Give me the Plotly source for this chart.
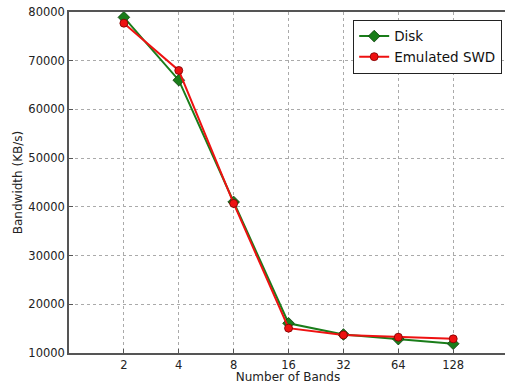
import math
import plotly.graph_objects as go

bands = [2, 4, 8, 16, 32, 64, 128]
band_labels = ["2", "4", "8", "16", "32", "64", "128"]
disk = [78900, 66000, 41000, 16100, 13800, 12850, 11900]
swd = [77700, 68000, 40700, 15100, 13700, 13250, 12900]
y_ticks = [10000, 20000, 30000, 40000, 50000, 60000, 70000, 80000]

font = "DejaVu Sans"
fig = go.Figure()
fig.add_trace(go.Scatter(
    x=bands, y=disk, name="Disk", mode="lines+markers",
    line=dict(color="#1a7d1a", width=2),
    marker=dict(symbol="diamond", size=9, color="#1a7d1a",
                line=dict(color="#0d3d0d", width=0.8)),
))
fig.add_trace(go.Scatter(
    x=bands, y=swd, name="Emulated SWD", mode="lines+markers",
    line=dict(color="#ee1111", width=2),
    marker=dict(symbol="circle", size=8, color="#ee1111",
                line=dict(color="#7a0000", width=0.8)),
))

fig.update_layout(
    width=507, height=384,
    margin=dict(l=69, r=0, t=12, b=31, autoexpand=False),
    paper_bgcolor="white", plot_bgcolor="white",
    font=dict(family=font, size=12, color="#222"),
    showlegend=True,
    legend=dict(
        x=0.989, y=0.977, xanchor="right", yanchor="top",
        bordercolor="#222", borderwidth=1, bgcolor="white",
        font=dict(family=font, size=13.5, color="#111"),
        tracegroupgap=0, itemwidth=30,
    ),
    xaxis=dict(
        type="log", automargin=False,
        range=[0, math.log10(2) * 7.98],
        tickvals=bands, ticktext=band_labels,
        showgrid=True, gridcolor="#aaa", griddash="dot", gridwidth=1,
        showline=True, linecolor="#555", linewidth=1.5, mirror=True,
        ticks="inside", ticklen=4, tickcolor="#555",
        tickfont=dict(family=font, size=11.5, color="#222"),
        title=dict(text="Number of Bands", font=dict(family=font, size=12, color="#222"), standoff=1),
        zeroline=False,
    ),
    yaxis=dict(
        range=[10000, 80000], automargin=False,
        tickvals=y_ticks, ticktext=[str(v) for v in y_ticks],
        showgrid=True, gridcolor="#aaa", griddash="dot", gridwidth=1,
        showline=True, linecolor="#555", linewidth=1.5, mirror=False,
        ticks="inside", ticklen=4, tickcolor="#555",
        tickfont=dict(family=font, size=11.5, color="#222"),
        title=dict(text="Bandwidth (KB/s)", font=dict(family=font, size=12, color="#222"), standoff=3),
        zeroline=False,
    ),
)

fig.write_html(
    "out.html",
    config={"displayModeBar": False},
    post_script="document.body.style.margin='0';document.body.style.overflow='hidden';document.documentElement.style.overflow='hidden';",
)
